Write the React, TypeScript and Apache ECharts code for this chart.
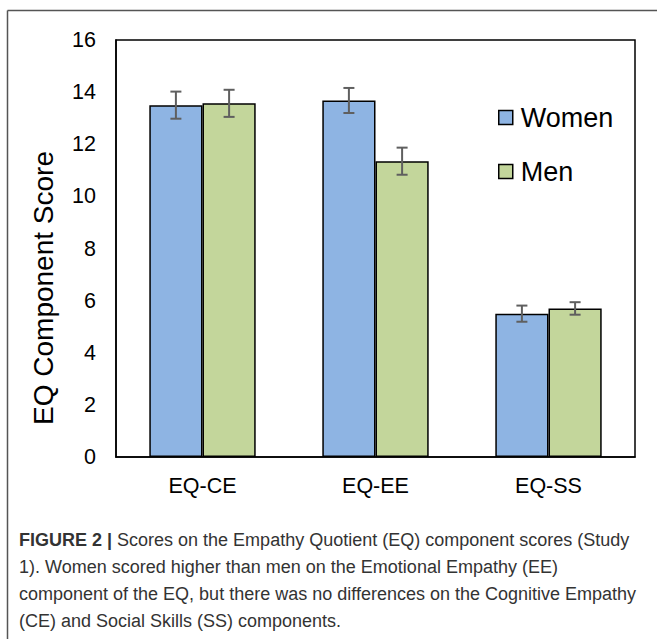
import React, { useEffect, useRef } from "react";
import * as echarts from "echarts";

const categories = ["EQ-CE", "EQ-EE", "EQ-SS"];
const seriesNames = ["Women", "Men"];
const womenValues = [13.5, 13.68, 5.5];
const menValues = [13.57, 11.35, 5.7];
const womenErrors = [0.52, 0.48, 0.31];
const menErrors = [0.52, 0.52, 0.24];
const yTicks = { min: 0, max: 16, interval: 2 };
const yTitle = "EQ Component Score";
const captionBold = "FIGURE 2 | ";
const captionLines = [
  "Scores on the Empathy Quotient (EQ) component scores (Study",
  "1). Women scored higher than men on the Emotional Empathy (EE)",
  "component of the EQ, but there was no differences on the Cognitive Empathy",
  "(CE) and Social Skills (SS) components.",
];

const GAP = 0.385;
const FONT = "Liberation Sans, Arial, Helvetica, sans-serif";

export default function App() {
  const ref = useRef<HTMLDivElement>(null);
  useEffect(() => {
    if (!ref.current) return;
    const chart = echarts.init(ref.current, undefined, { renderer: "svg" });
    const errData: number[][] = [];
    womenValues.forEach((v, i) => errData.push([i, v, womenErrors[i], 0]));
    menValues.forEach((v, i) => errData.push([i, v, menErrors[i], 1]));

    const captionGraphics = captionLines.map((line, i) => {
      if (i === 0) {
        return {
          type: "text",
          left: 19,
          top: 531 + i * 27,
          style: {
            text: "{b|" + captionBold.trim() + "} " + line,
            rich: {
              b: { fontWeight: "bold", fontSize: 18, fontFamily: FONT, fill: "#333" },
            },
            fontSize: 18,
            fontFamily: FONT,
            fill: "#333",
          },
        };
      }
      return {
        type: "text",
        left: 19,
        top: 531 + i * 27,
        style: { text: line, fontSize: 18, fontFamily: FONT, fill: "#333" },
      };
    });

    chart.setOption({
      animation: false,
      backgroundColor: "#fff",
      textStyle: { fontFamily: FONT },
      grid: {
        left: 116,
        top: 40,
        right: 22,
        bottom: 182,
        show: true,
        borderColor: "#000",
        borderWidth: 1.5,
        containLabel: false,
      },
      legend: {
        data: seriesNames,
        orient: "vertical",
        left: 498,
        top: 104,
        padding: 0,
        itemWidth: 14,
        itemHeight: 14,
        itemGap: 27,
        icon: "rect",
        itemStyle: { borderColor: "#000", borderWidth: 1.5 },
        textStyle: { fontSize: 27, color: "#000", fontFamily: FONT, padding: [0, 0, 0, 3] },
      },
      xAxis: {
        type: "category",
        data: categories,
        axisLine: { lineStyle: { color: "#000", width: 1.5 } },
        axisTick: { show: false },
        axisLabel: { fontSize: 21.5, color: "#000", margin: 18, fontFamily: FONT },
      },
      yAxis: {
        type: "value",
        min: yTicks.min,
        max: yTicks.max,
        interval: yTicks.interval,
        axisLine: { show: true, lineStyle: { color: "#000", width: 1.5 } },
        axisTick: { show: false },
        splitLine: { show: false },
        axisLabel: { fontSize: 21.5, color: "#000", margin: 20, fontFamily: FONT },
      },
      graphic: [
        {
          type: "line",
          shape: { x1: 7.5, y1: 10.5, x2: 657, y2: 10.5 },
          style: { stroke: "#555", lineWidth: 1.5 },
        },
        {
          type: "line",
          shape: { x1: 7.5, y1: 10.5, x2: 7.5, y2: 639 },
          style: { stroke: "#555", lineWidth: 1.5 },
        },
        {
          type: "text",
          x: 43,
          y: 288,
          rotation: Math.PI / 2,
          style: {
            text: yTitle,
            fontSize: 28,
            fontFamily: FONT,
            fill: "#000",
            align: "center",
            verticalAlign: "middle",
          },
        },
        ...captionGraphics,
      ],
      series: [
        {
          name: "Women",
          type: "bar",
          data: womenValues,
          barGap: "0%",
          barCategoryGap: GAP * 100 + "%",
          itemStyle: { color: "#8EB4E3", borderColor: "#000", borderWidth: 1.5 },
        },
        {
          name: "Men",
          type: "bar",
          data: menValues,
          barGap: "0%",
          barCategoryGap: GAP * 100 + "%",
          itemStyle: { color: "#C3D69B", borderColor: "#000", borderWidth: 1.5 },
        },
        {
          name: "errors",
          type: "custom",
          z: 10,
          data: errData,
          renderItem: (params: any, api: any) => {
            const cat = api.value(0);
            const val = api.value(1);
            const err = api.value(2);
            const side = api.value(3);
            const c = api.coord([cat, val]);
            const band = api.size([1, 0])[0];
            const bw = (band * (1 - GAP)) / 2;
            const x = c[0] + (side === 0 ? -bw / 2 : bw / 2);
            const top = api.coord([cat, val + err])[1];
            const bot = api.coord([cat, val - err])[1];
            const cap = 5.5;
            const st = { stroke: "#5f5f5f", lineWidth: 2 };
            return {
              type: "group",
              children: [
                { type: "line", shape: { x1: x, y1: top, x2: x, y2: bot }, style: st },
                { type: "line", shape: { x1: x - cap, y1: top, x2: x + cap, y2: top }, style: st },
                { type: "line", shape: { x1: x - cap, y1: bot, x2: x + cap, y2: bot }, style: st },
              ],
            };
          },
        },
      ],
    });
    return () => chart.dispose();
  }, []);
  return (
    <div
      ref={ref}
      style={{ position: "absolute", left: 0, top: 0, width: 657, height: 639, background: "#fff" }}
    />
  );
}
